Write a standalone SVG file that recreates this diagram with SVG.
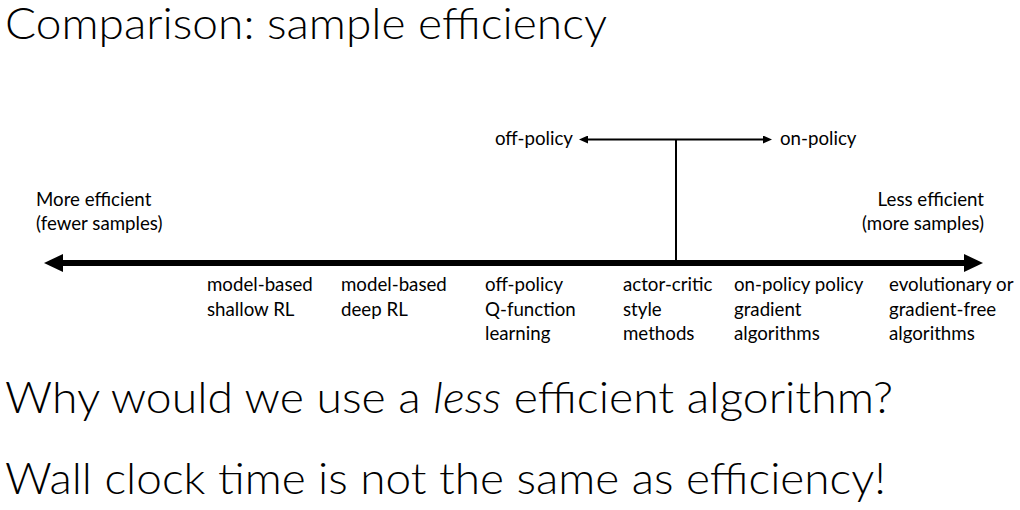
<svg xmlns="http://www.w3.org/2000/svg" width="1020" height="510" viewBox="0 0 1020 510">
<style>
.big{font-family:Lato,"Open Sans","Liberation Sans",sans-serif;font-weight:300;font-size:44px;fill:#000}
.sm{font-family:Lato,"Open Sans","Liberation Sans",sans-serif;font-size:18.7px;fill:#000}
.ln{stroke:#000;fill:none}
</style>
<defs>
<marker id="bigHead" markerWidth="3.2" markerHeight="3" refX="0" refY="1.5" orient="auto-start-reverse" markerUnits="strokeWidth" viewBox="0 0 3.2 3">
<path d="M0,0 L3.2,1.5 L0,3 Z" fill="#000"/>
</marker>
<marker id="smHead" markerWidth="4.5" markerHeight="4" refX="0" refY="2" orient="auto-start-reverse" markerUnits="strokeWidth" viewBox="0 0 4.5 4">
<path d="M0,0 L4.5,2 L0,4 Z" fill="#000"/>
</marker>
</defs>
<rect width="1020" height="510" fill="#fff"/>
<text class="big" x="5" y="39" textLength="602" lengthAdjust="spacingAndGlyphs">Comparison: sample efficiency</text>
<g id="connectors">
<line class="ln" x1="63" y1="263" x2="964" y2="263" stroke-width="6" marker-start="url(#bigHead)" marker-end="url(#bigHead)"/>
<line class="ln" x1="588" y1="139.5" x2="763" y2="139.5" stroke-width="2" marker-start="url(#smHead)" marker-end="url(#smHead)"/>
<line class="ln" x1="676" y1="139.5" x2="676" y2="262" stroke-width="2"/>
</g>
<g id="off-policy"><text class="sm" x="573" y="145" text-anchor="end">off-policy</text></g>
<g id="on-policy"><text class="sm" x="780" y="145">on-policy</text></g>
<g id="more-efficient"><text class="sm" x="36" y="206">More efficient</text><text class="sm" x="36" y="230">(fewer samples)</text></g>
<g id="less-efficient"><text class="sm" x="984" y="206" text-anchor="end">Less efficient</text><text class="sm" x="984" y="230" text-anchor="end">(more samples)</text></g>
<g id="mb-shallow"><text class="sm" x="207" y="291">model-based</text><text class="sm" x="207" y="316">shallow RL</text></g>
<g id="mb-deep"><text class="sm" x="341" y="291">model-based</text><text class="sm" x="341" y="316">deep RL</text></g>
<g id="off-q"><text class="sm" x="485" y="291">off-policy</text><text class="sm" x="485" y="316">Q-function</text><text class="sm" x="485" y="340">learning</text></g>
<g id="actor-critic"><text class="sm" x="623" y="291">actor-critic</text><text class="sm" x="623" y="316">style</text><text class="sm" x="623" y="340">methods</text></g>
<g id="on-pg"><text class="sm" x="734" y="291">on-policy policy</text><text class="sm" x="734" y="316">gradient</text><text class="sm" x="734" y="340">algorithms</text></g>
<g id="evo"><text class="sm" x="889" y="291">evolutionary or</text><text class="sm" x="889" y="316">gradient-free</text><text class="sm" x="889" y="340">algorithms</text></g>
<text class="big" x="5" y="413" textLength="888" lengthAdjust="spacingAndGlyphs">Why would we use a <tspan font-style="italic">less</tspan> efficient algorithm?</text>
<text class="big" x="5" y="494" textLength="881" lengthAdjust="spacingAndGlyphs">Wall clock time is not the same as efficiency!</text>
</svg>
